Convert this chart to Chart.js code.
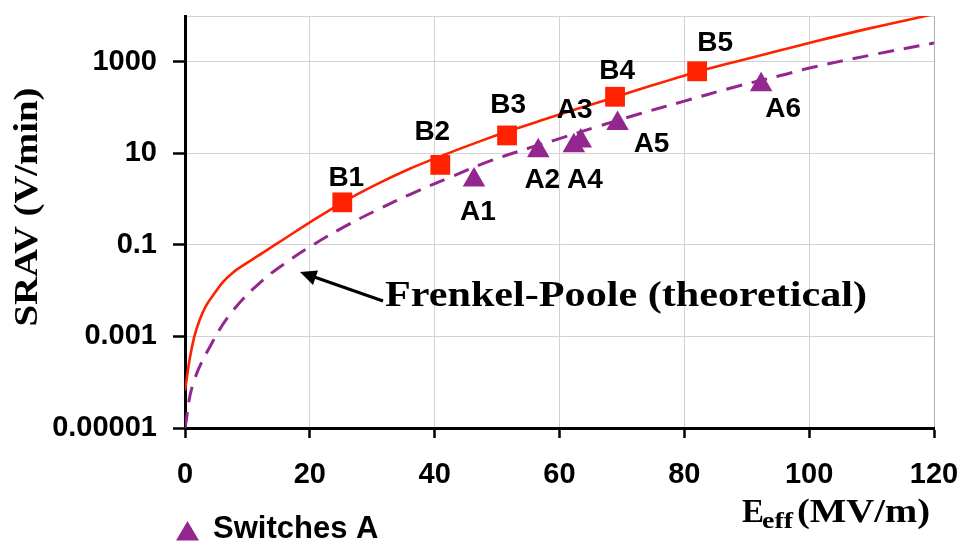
<!DOCTYPE html>
<html><head><meta charset="utf-8">
<script src="https://cdn.jsdelivr.net/npm/chart.js@4/dist/chart.umd.min.js"></script>
<style>html,body{margin:0;padding:0;background:#fff;overflow:hidden}#wrap{width:961px;height:544px}</style>
</head><body><div id="wrap"><canvas id="c" width="961" height="544"></canvas></div>
<script>
// ---- data ----
const xTicks = [0, 20, 40, 60, 80, 100, 120];
const yTickValues = [0.00001, 0.001, 0.1, 10, 1000, 10000];
const yTickLabels = ['0.00001', '0.001', '0.1', '10', '1000', ''];

// Frenkel-Poole theoretical curve for switches B (solid red)
const fpBx = [0, 0.8, 1.5, 2.4, 3.3, 4.5, 6, 7.7, 10, 12.5, 16, 20, 25, 31, 36, 41, 47, 52, 57, 63, 69, 75, 82, 89, 95.4, 100.6, 110, 120];
const fpBy = [6.6e-5, 3.5e-4, 1.0e-3, 2.4e-3, 4.5e-3, 7.9e-3, 0.015, 0.025, 0.041, 0.068, 0.138, 0.31, 0.81, 2.2, 4.6, 8.7, 17.8, 31, 52, 95, 170, 310, 600, 1070, 1780, 2700, 5500, 11000];

// Frenkel-Poole theoretical curve for switches A (dashed purple)
const fpAx = [0, 1.3, 4.3, 7.7, 12.5, 16.8, 20.5, 26, 31, 36, 42.5, 49, 55, 59, 66, 73, 80, 87.8, 95.4, 100.6, 110, 120];
const fpAy = [1e-5, 9.3e-5, 7.1e-4, 3.7e-3, 0.017, 0.047, 0.1, 0.27, 0.6, 1.26, 3.0, 6.9, 12.9, 19, 38, 74, 138, 275, 500, 760, 1410, 2570];

// Measured switches B (red squares)
const switchBx = [25.2, 40.9, 51.6, 68.9, 82.05];
const switchBy = [0.85, 5.6, 24.6, 172, 620];
const switchBLabels = ['B1', 'B2', 'B3', 'B4', 'B5'];

// Measured switches A (purple triangles)
const switchAx = [46.3, 56.6, 63.4, 62.3, 69.3, 92.3];
const switchAy = [2.6, 11.4, 18.6, 14.6, 45, 315];
const switchALabels = ['A1', 'A2', 'A3', 'A4', 'A5', 'A6'];

const legendText = 'Switches A';
const annotationText = 'Frenkel-Poole (theoretical)';
const yTitle = 'SRAV (V/min)';

// ---- styles / label placement (pixels relative to marker) ----
const RED = '#ff2200';
const PURPLE = '#93278f';
const offB = [[4,-24.5],[-8,-32.5],[1,-30],[2,-25.5],[18,-28.5]];
const offA = [[4,32],[4,30],[-6,-31],[11,34.5],[34,21],[22,25]];
const SANS = '"Liberation Sans", Arial, sans-serif';
const SERIF = '"Liberation Serif", "Times New Roman", serif';

const zip = (xs, ys) => xs.map((x, i) => ({x: x, y: ys[i]}));

const annot = {
  id: 'annot',
  afterDraw(chart) {
    const c = chart.ctx, xs = chart.scales.x, ys = chart.scales.y;
    c.save();
    c.fillStyle = '#000';
    c.font = 'bold 28px ' + SANS;
    c.textAlign = 'center';
    c.textBaseline = 'middle';
    switchBLabels.forEach((t, i) => {
      const px = xs.getPixelForValue(switchBx[i]), py = ys.getPixelForValue(switchBy[i]);
      c.fillText(t, px + offB[i][0], py + offB[i][1]);
    });
    switchALabels.forEach((t, i) => {
      const px = xs.getPixelForValue(switchAx[i]), py = ys.getPixelForValue(switchAy[i]);
      c.fillText(t, px + offA[i][0], py + offA[i][1]);
    });

    // legend
    c.fillStyle = PURPLE;
    c.beginPath();
    c.moveTo(187.5, 521); c.lineTo(199, 540.5); c.lineTo(176, 540.5); c.closePath(); c.fill();
    c.fillStyle = '#000';
    c.textAlign = 'left';
    c.font = 'bold 31px ' + SANS;
    c.fillText(legendText, 213, 529);

    // Frenkel-Poole annotation with arrow
    c.strokeStyle = '#000'; c.lineWidth = 3;
    c.beginPath(); c.moveTo(383, 301); c.lineTo(310, 275.5); c.stroke();
    c.beginPath();
    c.moveTo(300, 272); c.lineTo(318, 270.5); c.lineTo(313, 285); c.closePath(); c.fill();
    c.font = 'bold 35px ' + SERIF;
    c.textBaseline = 'alphabetic';
    let w = c.measureText(annotationText).width;
    c.save(); c.translate(385, 306); c.scale(482 / w, 1); c.fillText(annotationText, 0, 0); c.restore();

    // y title
    c.save();
    c.translate(37, 207); c.rotate(-Math.PI / 2);
    c.font = 'bold 33px ' + SERIF;
    w = c.measureText(yTitle).width;
    c.scale(239 / w, 1);
    c.textAlign = 'center';
    c.fillText(yTitle, 0, 0);
    c.restore();

    // x title: E_eff (MV/m)
    c.font = 'bold 33px ' + SERIF;
    c.textAlign = 'left';
    c.fillText('E', 742, 522);
    c.font = 'bold 23px ' + SERIF;
    w = c.measureText('eff').width;
    c.save(); c.translate(762, 528); c.scale(31 / w, 1); c.fillText('eff', 0, 0); c.restore();
    c.font = 'bold 33px ' + SERIF;
    w = c.measureText('(MV/m)').width;
    c.save(); c.translate(797, 522); c.scale(133 / w, 1); c.fillText('(MV/m)', 0, 0); c.restore();
    c.restore();
  }
};

new Chart(document.getElementById('c'), {
  type: 'line',
  data: {
    datasets: [
      { label: 'Switches B', data: zip(switchBx, switchBy), showLine: false, pointStyle: 'rect', pointRadius: 14, backgroundColor: RED, borderColor: RED, borderWidth: 0, order: 1 },
      { label: 'Switches A', data: zip(switchAx, switchAy), showLine: false, pointStyle: 'triangle', pointRadius: 13, backgroundColor: PURPLE, borderColor: PURPLE, borderWidth: 0, order: 2 },
      { label: 'FP B', data: zip(fpBx, fpBy), borderColor: RED, borderWidth: 2.6, pointRadius: 0, cubicInterpolationMode: 'monotone', fill: false, order: 3 },
      { label: 'FP A', data: zip(fpAx, fpAy), borderColor: PURPLE, borderWidth: 3, borderDash: [16, 10], pointRadius: 0, tension: 0.4, fill: false, order: 4 }
    ]
  },
  options: {
    responsive: false, animation: false, devicePixelRatio: 1,
    layout: { padding: { left: 0, right: 27, top: 16, bottom: 0 } },
    plugins: { legend: { display: false }, tooltip: { enabled: false } },
    scales: {
      x: {
        type: 'linear', min: 0, max: 120,
        afterBuildTicks: s => { s.ticks = xTicks.map(v => ({ value: v })); },
        afterFit: s => { s.height = 116; s.paddingLeft = 0; s.paddingRight = 0; },
        ticks: { font: { family: SANS, size: 29, weight: 'bold' }, color: '#000', padding: 20, maxRotation: 0, autoSkip: false },
        grid: { color: c => (c.tick && c.tick.value === 120) ? '#b0b0b0' : '#d2d2d2', lineWidth: 1, tickColor: '#000', tickLength: 10, tickWidth: 2.5 },
        border: { color: '#000', width: 3 }
      },
      y: {
        type: 'logarithmic', min: 1e-5, max: 1e4,
        afterBuildTicks: s => { s.ticks = yTickValues.map(v => ({ value: v })); },
        afterFit: s => { s.width = 185; s.paddingTop = 0; s.paddingBottom = 0; },
        ticks: { font: { family: SANS, size: 29, weight: 'bold' }, color: '#000', padding: 16, autoSkip: false,
                 callback: (v, i) => yTickLabels[i] },
        grid: { color: '#d2d2d2', lineWidth: 1, tickColor: c => (c.tick && c.tick.value === 10000) ? 'rgba(0,0,0,0)' : '#000', tickLength: 12, tickWidth: 2.5 },
        border: { color: '#000', width: 3 }
      }
    }
  },
  plugins: [annot]
});
</script></body></html>
